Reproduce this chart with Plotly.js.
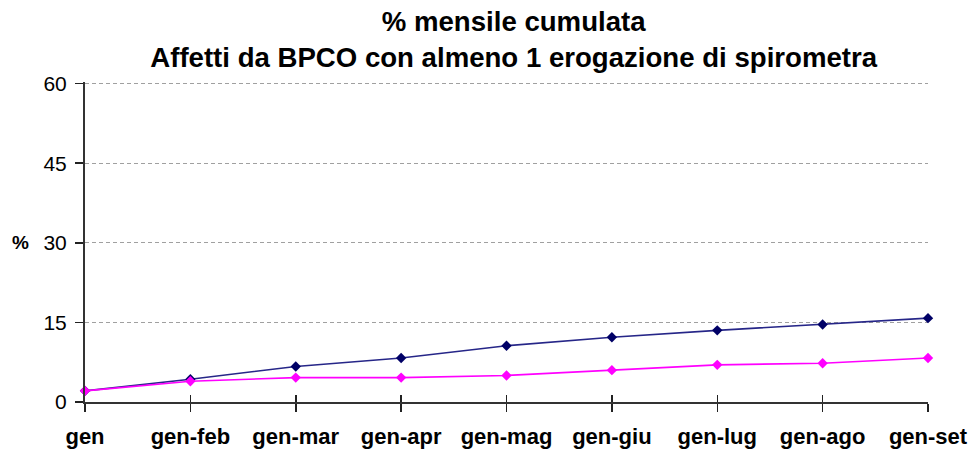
<!DOCTYPE html>
<html>
<head>
<meta charset="utf-8">
<script src="https://cdn.plot.ly/plotly-3.0.1.min.js"></script>
<style>html,body{margin:0;padding:0;background:#fff;}#chart{width:971px;height:452px;}</style>
</head>
<body>
<div id="chart"></div>
<script>
var categories = ["gen", "gen-feb", "gen-mar", "gen-apr", "gen-mag", "gen-giu", "gen-lug", "gen-ago", "gen-set"];
var serieBlu = [2.1, 4.3, 6.7, 8.3, 10.6, 12.2, 13.5, 14.6, 15.8];
var serieRosa = [2.1, 3.9, 4.6, 4.6, 5.0, 6.0, 7.0, 7.3, 8.3];
var yTicks = [0, 15, 30, 45, 60];
var titleLines = ["% mensile cumulata", "Affetti da BPCO con almeno 1 erogazione di spirometra"];
var yLabel = "%";

var font = "Liberation Sans, Arial, sans-serif";

var traces = [
  {
    x: categories, y: serieBlu, type: "scatter", mode: "lines+markers",
    line: {color: "#262688", width: 1.6},
    marker: {symbol: "diamond", size: 8, color: "#000066"},
    cliponaxis: false, showlegend: false
  },
  {
    x: categories, y: serieRosa, type: "scatter", mode: "lines+markers",
    line: {color: "#ff00ff", width: 1.6},
    marker: {symbol: "diamond", size: 8, color: "#ff00ff"},
    cliponaxis: false, showlegend: false
  },
  {
    x: categories, y: categories.map(function(){return null;}), xaxis: "x2", type: "scatter",
    mode: "markers", showlegend: false, hoverinfo: "skip"
  }
];

var layout = {
  width: 971, height: 452,
  margin: {l: 85, r: 43, t: 82.4, b: 50},
  paper_bgcolor: "#ffffff", plot_bgcolor: "#ffffff",
  font: {family: font, color: "#000"},
  title: {
    text: "<b>" + titleLines[0] + "</b><br><b>" + titleLines[1] + "</b>",
    font: {family: font, size: 27.6, color: "#000"},
    x: 0.5085, xref: "paper", xanchor: "center",
    y: 0.932, yref: "container", yanchor: "top"
  },
  xaxis: {
    type: "category", range: [0, 8],
    showline: true, linecolor: "#333", linewidth: 2,
    ticks: "outside", ticklen: 8, tickwidth: 1.5, tickcolor: "#222",
    showgrid: false, zeroline: false,
    ticklabelstandoff: 6,
    tickfont: {family: font, size: 22, color: "#000", weight: "bold"},
    fixedrange: true
  },
  xaxis2: {
    type: "category", range: [0, 8], overlaying: "x", anchor: "y",
    showline: false, ticks: "inside", ticklen: 7, tickwidth: 1.5, tickcolor: "#222",
    showticklabels: false, showgrid: false, zeroline: false,
    fixedrange: true
  },
  yaxis: {
    range: [0, 60.3], tickvals: yTicks,
    showline: true, linecolor: "#333", linewidth: 2,
    ticks: "outside", ticklen: 8, tickwidth: 1.5, tickcolor: "#222",
    showgrid: true, gridcolor: "#a0a0a0", gridwidth: 1, griddash: "4px,3px",
    zeroline: false,
    ticklabelstandoff: 4,
    tickfont: {family: font, size: 21, color: "#000"},
    fixedrange: true
  },
  annotations: [
    {
      text: "<b>" + yLabel + "</b>", xref: "paper", yref: "paper",
      x: -0.077, y: 0.5, xanchor: "center", yanchor: "middle", showarrow: false,
      font: {family: font, size: 19, color: "#000"}
    }
  ]
};

Plotly.newPlot("chart", traces, layout, {staticPlot: true, displayModeBar: false});
</script>
</body>
</html>
